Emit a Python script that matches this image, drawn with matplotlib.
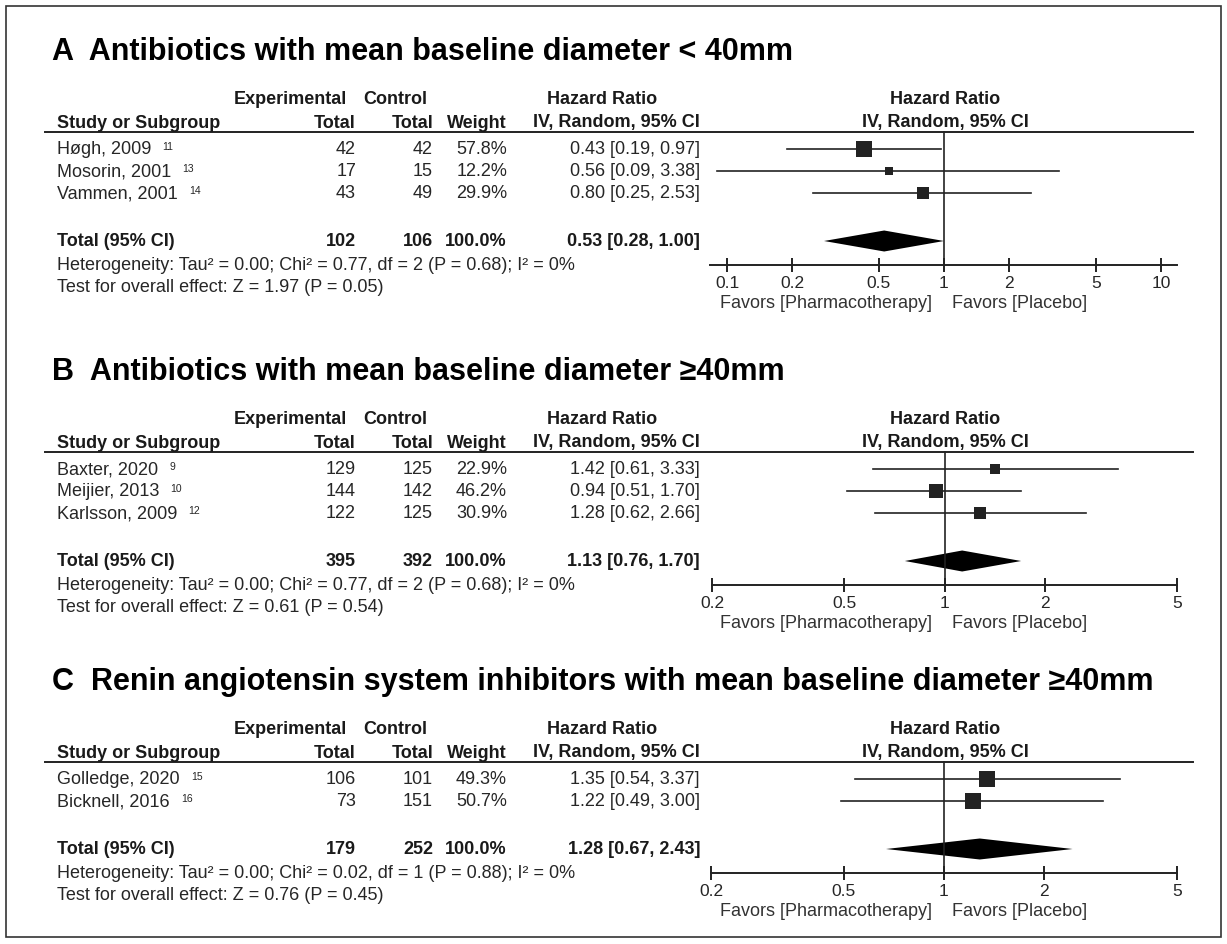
import matplotlib
matplotlib.use("Agg")
import matplotlib.pyplot as plt
from matplotlib.patches import Rectangle
import numpy as np

plt.rcParams['font.family'] = ['Liberation Sans', 'DejaVu Sans']

W, H = 1227, 945
TXT = '#1a1a1a'
BODY = '#262626'
INK = '#222222'

# ---------------- data ----------------
titles = ["A  Antibiotics with mean baseline diameter < 40mm",
          "B  Antibiotics with mean baseline diameter \u226540mm",
          "C  Renin angiotensin system inhibitors with mean baseline diameter \u226540mm"]

studies_A = ["Høgh, 2009", "Mosorin, 2001", "Vammen, 2001"]
refs_A = ["11", "13", "14"]
exp_A = [42, 17, 43]
ctl_A = [42, 15, 49]
wt_A = [57.8, 12.2, 29.9]
hr_A = [0.43, 0.56, 0.80]
lo_A = [0.19, 0.09, 0.25]
hi_A = [0.97, 3.38, 2.53]
tot_A = (102, 106, 0.53, 0.28, 1.00)
het_A = "Heterogeneity: Tau\u00b2 = 0.00; Chi\u00b2 = 0.77, df = 2 (P = 0.68); I\u00b2 = 0%"
test_A = "Test for overall effect: Z = 1.97 (P = 0.05)"
ticks_A = [0.1, 0.2, 0.5, 1, 2, 5, 10]
ticklabels_A = ["0.1", "0.2", "0.5", "1", "2", "5", "10"]

studies_B = ["Baxter, 2020", "Meijier, 2013", "Karlsson, 2009"]
refs_B = ["9", "10", "12"]
exp_B = [129, 144, 122]
ctl_B = [125, 142, 125]
wt_B = [22.9, 46.2, 30.9]
hr_B = [1.42, 0.94, 1.28]
lo_B = [0.61, 0.51, 0.62]
hi_B = [3.33, 1.70, 2.66]
tot_B = (395, 392, 1.13, 0.76, 1.70)
het_B = "Heterogeneity: Tau\u00b2 = 0.00; Chi\u00b2 = 0.77, df = 2 (P = 0.68); I\u00b2 = 0%"
test_B = "Test for overall effect: Z = 0.61 (P = 0.54)"
ticks_B = [0.2, 0.5, 1, 2, 5]
ticklabels_B = ["0.2", "0.5", "1", "2", "5"]

studies_C = ["Golledge, 2020", "Bicknell, 2016"]
refs_C = ["15", "16"]
exp_C = [106, 73]
ctl_C = [101, 151]
wt_C = [49.3, 50.7]
hr_C = [1.35, 1.22]
lo_C = [0.54, 0.49]
hi_C = [3.37, 3.00]
tot_C = (179, 252, 1.28, 0.67, 2.43)
het_C = "Heterogeneity: Tau\u00b2 = 0.00; Chi\u00b2 = 0.02, df = 1 (P = 0.88); I\u00b2 = 0%"
test_C = "Test for overall effect: Z = 0.76 (P = 0.45)"
ticks_C = ticks_B
ticklabels_C = ticklabels_B

panels = [
    dict(title=titles[0], studies=studies_A, refs=refs_A, exp=exp_A, ctl=ctl_A, wt=wt_A,
         hr=hr_A, lo=lo_A, hi=hi_A, tot=tot_A, het=het_A, test=test_A,
         ticks=ticks_A, tl=ticklabels_A,
         y0=52, ax_x=(710, 1177), xlim=(10 ** ((710 - 944) / 217.0), 10 ** ((1177 - 944) / 217.0))),
    dict(title=titles[1], studies=studies_B, refs=refs_B, exp=exp_B, ctl=ctl_B, wt=wt_B,
         hr=hr_B, lo=lo_B, hi=hi_B, tot=tot_B, het=het_B, test=test_B,
         ticks=ticks_B, tl=ticklabels_B,
         y0=372, ax_x=(712, 1177), xlim=(0.2, 5)),
    dict(title=titles[2], studies=studies_C, refs=refs_C, exp=exp_C, ctl=ctl_C, wt=wt_C,
         hr=hr_C, lo=lo_C, hi=hi_C, tot=tot_C, het=het_C, test=test_C,
         ticks=ticks_C, tl=ticklabels_C,
         y0=682, ax_x=(711, 1177), xlim=(0.2, 5)),
]

fig = plt.figure(figsize=(W / 100, H / 100), dpi=100)
bg = fig.add_axes([0, 0, 1, 1])
bg.set_xlim(0, W)
bg.set_ylim(H, 0)
bg.axis('off')

bg.add_patch(Rectangle((6, 7), 1215, 931, fill=False, lw=1.2, edgecolor='#333333'))

FS = 13
TFS = 22
X_TITLE = 52
X_NAME = 57
X_EXPH = 347
X_CTLH = 427
X_EXP = 356
X_CTL = 433
X_WT = 507
X_HR = 700
X_HRH = 602
X_FC = 945

for p in panels:
    y0 = p['y0']
    h1 = y0 + 47
    h2 = y0 + 71
    yline = y0 + 81
    nrow = len(p['studies'])
    rows = [yline + 17 + 22 * i for i in range(nrow)]
    ytot = rows[-1] + 48
    yhet = ytot + 24
    ytest = yhet + 22
    yaxis = ytot + 24

    bg.text(X_TITLE, y0, p['title'], fontsize=TFS, fontweight='bold', color='black', va='center', ha='left')

    hb = dict(fontsize=FS, fontweight='bold', color=TXT, va='center')
    bg.text(X_EXPH, h1, "Experimental", ha='right', **hb)
    bg.text(X_CTLH, h1, "Control", ha='right', **hb)
    bg.text(X_HRH, h1, "Hazard Ratio", ha='center', **hb)
    bg.text(X_FC, h1, "Hazard Ratio", ha='center', **hb)
    bg.text(X_NAME, h2, "Study or Subgroup", ha='left', **hb)
    bg.text(X_EXP, h2, "Total", ha='right', **hb)
    bg.text(X_CTL, h2, "Total", ha='right', **hb)
    bg.text(X_WT, h2, "Weight", ha='right', **hb)
    bg.text(X_HR, h2, "IV, Random, 95% CI", ha='right', **hb)
    bg.text(X_FC, h2, "IV, Random, 95% CI", ha='center', **hb)
    bg.plot([45, 1193], [yline, yline], color=INK, lw=1.4)

    rb = dict(fontsize=FS, color=BODY, va='center')
    for i in range(nrow):
        t = bg.text(X_NAME, rows[i], p['studies'][i], ha='left', **rb)
        bg.annotate(p['refs'][i], xy=(1, 1), xycoords=t, xytext=(8, 0), textcoords='offset points',
                    fontsize=7.5, color=BODY, ha='left', va='top')
        bg.text(X_EXP, rows[i], f"{p['exp'][i]}", ha='right', **rb)
        bg.text(X_CTL, rows[i], f"{p['ctl'][i]}", ha='right', **rb)
        bg.text(X_WT, rows[i], f"{p['wt'][i]:.1f}%", ha='right', **rb)
        bg.text(X_HR, rows[i], f"{p['hr'][i]:.2f} [{p['lo'][i]:.2f}, {p['hi'][i]:.2f}]", ha='right', **rb)

    te, tc, th, tl_, tu = p['tot']
    bb = dict(fontsize=FS, fontweight='bold', color=TXT, va='center')
    bg.text(X_NAME, ytot, "Total (95% CI)", ha='left', **bb)
    bg.text(X_EXP, ytot, f"{te}", ha='right', **bb)
    bg.text(X_CTL, ytot, f"{tc}", ha='right', **bb)
    bg.text(X_WT, ytot, "100.0%", ha='right', **bb)
    bg.text(X_HR, ytot, f"{th:.2f} [{tl_:.2f}, {tu:.2f}]", ha='right', **bb)
    bg.text(X_NAME, yhet, p['het'], ha='left', **rb)
    bg.text(X_NAME, ytest, p['test'], ha='left', **rb)

    # forest axes
    xa0, xa1 = p['ax_x']
    ax = fig.add_axes([xa0 / W, 1 - yaxis / H, (xa1 - xa0) / W, (yaxis - yline) / H])
    ax.patch.set_alpha(0)
    ax.set_xscale('log')
    ax.set_xlim(*p['xlim'])
    ax.set_ylim(yaxis, yline)
    for s in ['top', 'left', 'right']:
        ax.spines[s].set_visible(False)
    ax.spines['bottom'].set_color(INK)
    ax.spines['bottom'].set_linewidth(1.4)
    ax.set_yticks([])
    ax.set_xticks(p['ticks'])
    ax.set_xticklabels(p['tl'])
    ax.minorticks_off()
    ax.tick_params(axis='x', direction='inout', length=10, width=1.4, color=INK,
                   labelsize=12.5, labelcolor=BODY, pad=2)
    ax.plot([1, 1], [yline, yaxis], color=INK, lw=1.2, clip_on=False)
    for i in range(nrow):
        ax.plot([p['lo'][i], p['hi'][i]], [rows[i], rows[i]], color=INK, lw=1.2, clip_on=False)
        side = 2.2 * np.sqrt(p['wt'][i])
        ax.plot([p['hr'][i]], [rows[i]], marker='s', ms=side * 0.72, color=INK, mew=0)
    dh = 10.5
    ax.fill([tl_, th, tu, th], [ytot, ytot - dh, ytot, ytot + dh], color='black', lw=0)

    yf = yaxis + 38
    bg.text(932, yf, "Favors [Pharmacotherapy]", ha='right', va='center', fontsize=FS, color='#333333')
    bg.text(952, yf, "Favors [Placebo]", ha='left', va='center', fontsize=FS, color='#333333')

fig.savefig("out.png", dpi=100)
